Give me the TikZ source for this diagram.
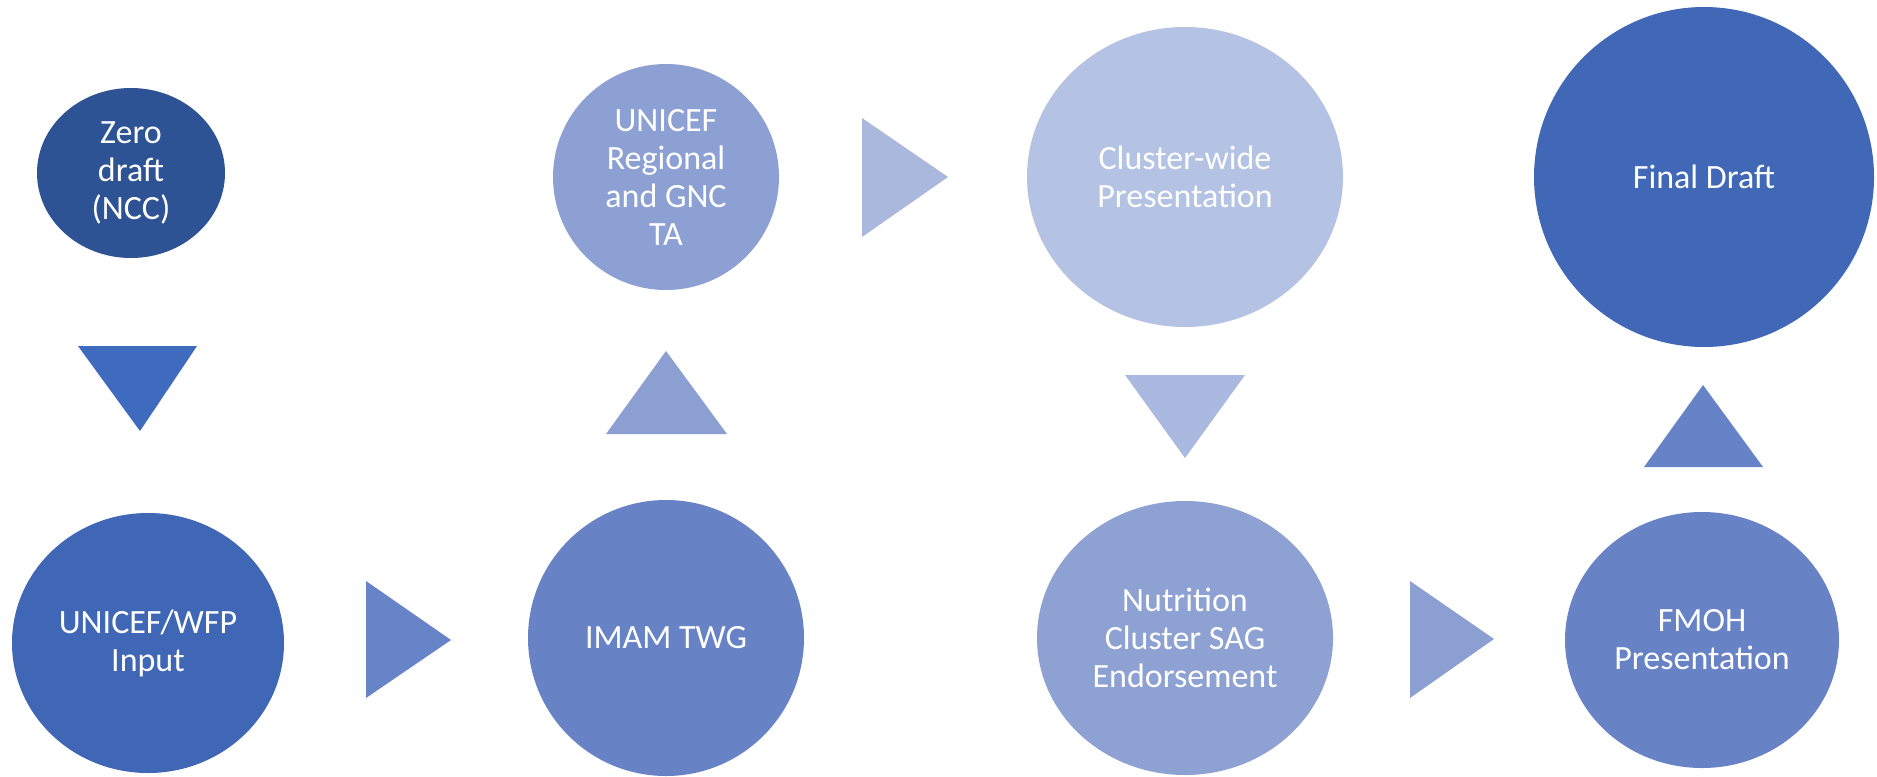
\documentclass[tikz,border=0pt]{standalone}
\usepackage{fontspec}
\setmainfont{Carlito}
\usetikzlibrary{shapes.geometric}
\definecolor{cZero}{HTML}{2E5395}
\definecolor{cTriA}{HTML}{3E6BBD}
\definecolor{cWFP}{HTML}{4067B5}
\definecolor{cTriB}{HTML}{6884C8}
\definecolor{cIMAM}{HTML}{6882C6}
\definecolor{cTriC}{HTML}{8B9FD3}
\definecolor{cReg}{HTML}{8CA0D4}
\definecolor{cTriD}{HTML}{AAB8DE}
\definecolor{cClus}{HTML}{B4C2E3}
\definecolor{cTriE}{HTML}{AAB9DF}
\definecolor{cNut}{HTML}{8EA1D3}
\definecolor{cTriF}{HTML}{8B9FD3}
\definecolor{cFMOH}{HTML}{6882C6}
\definecolor{cTriG}{HTML}{6683C7}
\definecolor{cFinal}{HTML}{4068B6}
\tikzset{
  stage/.style={ellipse, inner sep=0pt, align=center, text=white,
    font=\fontsize{17}{19}\selectfont}
}
\begin{document}
\begin{tikzpicture}[x=0.5pt,y=-0.5pt]
\useasboundingbox (0,0) rectangle (1877,776);
\fill[white] (0,0) rectangle (1877,776);

% stages
\node[stage, fill=cZero, minimum width=94pt, minimum height=85pt] (zero) at (131,173) {Zero\\draft\\(NCC)};
\node[stage, fill=cWFP, minimum width=136pt, minimum height=130pt] (wfp) at (148,643) {UNICEF/WFP\\Input};
\node[stage, fill=cReg, minimum width=113pt, minimum height=113pt] (reg) at (666,177) {UNICEF\\Regional\\and GNC\\TA};
\node[stage, fill=cIMAM, minimum width=138pt, minimum height=138pt] (imam) at (666,638) {IMAM TWG};
\node[stage, fill=cClus, minimum width=158pt, minimum height=150pt] (clus) at (1185,177) {Cluster-wide\\Presentation};
\node[stage, fill=cNut, minimum width=148pt, minimum height=137pt] (nut) at (1185,638) {Nutrition\\Cluster SAG\\Endorsement};
\node[stage, fill=cFMOH, minimum width=137pt, minimum height=128pt] (fmoh) at (1702,640) {FMOH\\Presentation};
\node[stage, fill=cFinal, minimum width=170pt, minimum height=170pt] (final) at (1704,177) {Final Draft};

% triangle arrows between stages
\fill[cTriA] (78,346) -- (197,346) -- (140,431) -- cycle;
\fill[cTriB] (366,581) -- (366,698) -- (451,640) -- cycle;
\fill[cTriC] (606,434) -- (727,434) -- (666,351) -- cycle;
\fill[cTriD] (862,118) -- (862,237) -- (948,177) -- cycle;
\fill[cTriE] (1125,375) -- (1245,375) -- (1185,458) -- cycle;
\fill[cTriF] (1410,581) -- (1410,698) -- (1494,639) -- cycle;
\fill[cTriG] (1644,467) -- (1763,467) -- (1703,385) -- cycle;
\end{tikzpicture}
\end{document}
